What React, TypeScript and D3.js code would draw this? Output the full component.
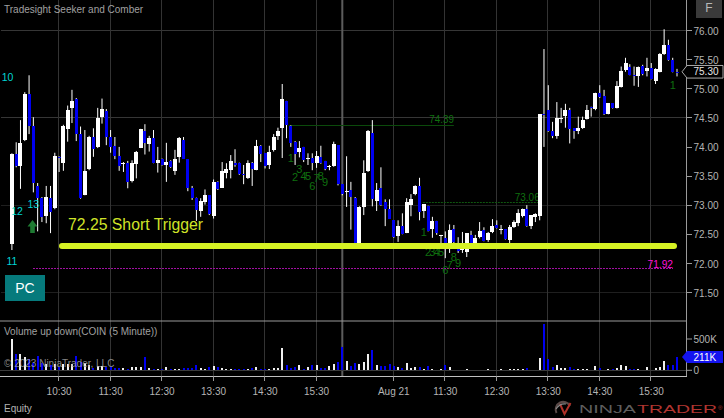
import React from "react";
import * as d3 from "d3";

const opens = [72.35,73.89,73.68,74.13,74.92,74.37,73.34,73.14,72.82,73.14,72.96,73.84,73.74,74.32,74.67,74.84,74.23,73.19,73.63,74.18,74.01,74.52,74.63,74.18,74.03,73.85,73.73,73.74,73.42,73.71,74.00,74.29,74.06,74.17,73.73,73.80,73.70,73.77,73.60,73.84,74.13,73.80,73.30,73.13,72.91,73.06,73.18,72.82,73.41,73.31,73.56,73.62,73.73,73.74,73.55,73.48,73.74,73.62,74.03,73.90,73.70,73.95,74.20,74.33,74.80,74.37,74.10,73.92,74.01,73.81,73.82,73.74,73.84,73.77,73.67,73.68,74.04,73.37,73.24,73.27,73.14,72.36,72.98,73.60,74.25,73.08,73.30,73.07,72.95,72.75,72.48,72.65,72.54,73.01,73.20,73.34,72.91,73.00,72.60,72.74,72.49,72.45,72.32,72.60,72.32,72.24,72.21,72.50,72.36,72.46,72.58,72.41,72.55,72.67,72.59,72.60,72.41,72.63,72.71,72.82,72.94,72.65,72.80,72.82,74.58,74.64,74.28,74.20,74.50,74.54,74.64,74.33,74.29,74.33,74.49,74.69,74.66,74.93,74.88,74.58,74.76,74.68,75.04,75.33,75.39,75.24,75.22,75.40,75.31,75.36,75.15,75.30,75.60,75.76,75.50,75.30];
const closes = [73.88,73.68,74.08,74.91,74.37,73.39,73.13,72.81,73.15,72.90,73.85,73.82,74.37,74.64,74.80,74.23,73.13,73.60,74.18,73.97,74.51,74.66,74.18,74.01,73.85,73.69,73.74,73.41,73.73,73.93,74.31,74.08,74.17,73.74,73.78,73.70,73.75,73.66,73.80,74.16,73.81,73.30,73.13,72.93,73.08,73.18,72.86,73.41,73.28,73.60,73.63,73.77,73.70,73.54,73.53,73.74,73.63,74.03,73.89,73.69,73.92,74.18,74.29,74.84,74.38,74.08,73.89,74.00,73.78,73.82,73.74,73.85,73.74,73.63,73.68,74.06,73.37,73.20,73.25,73.15,72.36,72.98,73.57,74.28,73.11,73.27,73.01,72.94,72.78,72.47,72.65,72.52,73.07,73.11,73.34,72.90,73.03,72.57,72.74,72.53,72.50,72.32,72.58,72.37,72.22,72.36,72.53,72.36,72.44,72.57,72.40,72.54,72.65,72.62,72.60,72.43,72.64,72.72,72.88,72.94,72.66,72.84,72.86,74.57,74.56,74.28,74.20,74.51,74.51,74.64,74.32,74.29,74.33,74.48,74.64,74.68,74.93,74.87,74.57,74.76,74.67,75.06,75.32,75.45,75.24,75.23,75.38,75.27,75.37,75.18,75.34,75.60,75.76,75.50,75.30,75.29];
const highs = [73.90,74.09,74.47,74.95,75.24,74.52,73.39,73.15,73.34,73.34,73.91,73.85,74.39,74.72,74.99,74.85,74.36,74.30,74.20,74.33,74.68,74.84,74.66,74.30,74.18,74.01,73.75,73.77,73.78,73.94,74.32,74.40,74.20,74.30,74.01,73.81,74.08,73.78,73.96,74.18,74.18,73.80,73.34,73.14,73.13,73.28,73.18,73.45,73.42,73.75,73.73,73.87,73.97,73.74,73.70,73.78,73.75,74.13,74.04,73.90,74.03,74.23,74.34,75.09,74.80,74.38,74.11,74.11,74.01,73.90,73.90,73.94,74.03,73.77,73.70,74.10,74.04,73.37,73.85,73.41,73.15,72.99,73.78,74.30,74.47,73.39,73.66,73.11,73.11,72.75,72.75,72.87,73.13,73.20,73.35,73.48,73.03,73.00,72.81,72.74,72.50,72.56,72.68,72.67,72.46,72.55,72.53,72.57,72.50,72.72,72.63,72.55,72.77,72.75,72.67,72.60,72.67,72.75,72.94,72.95,73.01,72.84,72.87,74.57,75.69,75.07,74.44,74.78,74.68,74.75,74.68,74.33,74.53,74.53,74.73,74.70,74.94,75.07,74.99,74.76,74.76,75.14,75.39,75.54,75.43,75.39,75.39,75.42,75.54,75.45,75.36,75.62,76.03,75.85,75.54,75.35];
const lows = [72.24,73.66,73.29,74.11,74.23,73.23,72.56,72.72,72.70,72.53,72.94,73.58,73.60,74.10,74.42,74.11,73.12,73.18,73.61,73.84,73.99,74.41,74.04,73.91,73.80,73.60,73.58,73.30,73.40,73.47,73.99,73.88,73.93,73.73,73.57,73.69,73.41,73.65,73.53,73.74,73.81,73.25,73.10,72.74,72.81,73.02,72.84,72.78,73.27,73.31,73.47,73.47,73.67,73.53,73.37,73.46,73.34,73.61,73.75,73.64,73.63,73.93,74.13,73.82,74.16,74.01,73.70,73.83,73.75,73.70,73.61,73.65,73.72,73.61,73.61,73.67,73.35,73.18,72.98,72.59,72.32,72.31,72.84,73.58,72.99,72.91,73.00,72.65,72.78,72.45,72.38,72.51,72.53,72.82,73.18,72.75,72.79,72.56,72.45,72.50,72.32,72.10,72.19,72.35,72.19,72.19,72.12,72.29,72.34,72.44,72.39,72.38,72.53,72.61,72.51,72.42,72.34,72.62,72.65,72.80,72.64,72.60,72.72,72.75,74.01,74.27,74.16,74.15,74.42,74.34,74.07,74.15,74.23,74.32,74.48,74.53,74.64,74.85,74.56,74.57,74.67,74.67,75.03,75.30,75.24,75.06,75.04,75.24,75.22,75.17,75.09,75.29,75.59,75.49,75.29,75.22];
const volumesK = [506,267,267,208,187,120,224,120,100,85,100,60,100,95,95,224,130,120,90,40,70,70,55,60,30,30,40,25,48,50,53,208,37,21,21,20,48,21,21,21,43,37,37,80,37,27,48,64,48,32,27,27,21,21,16,21,37,53,21,21,27,37,37,357,85,37,48,90,21,48,85,85,43,37,64,101,133,373,155,75,112,101,133,261,320,91,75,75,101,75,53,37,117,37,48,48,21,64,21,11,27,80,53,11,5,11,16,11,11,11,11,16,11,11,16,11,21,27,21,27,37,5,5,197,741,176,48,80,37,37,48,21,21,21,21,11,64,37,11,21,27,37,90,64,27,21,21,11,48,11,37,48,155,85,85,208];

const priceTicks = [76, 75.5, 75, 74.5, 74, 73.5, 73, 72.5, 72, 71.5];
const gridPrices = [76, 74.5];
const faintGridPrices = [73, 71.5];
const timeTicks: [number, string][] = [[11,"10:30"],[23,"11:30"],[35,"12:30"],[47,"13:30"],[59,"14:30"],[71,"15:30"],[89,"Aug 21"],[101,"11:30"],[113,"12:30"],[125,"13:30"],[137,"14:30"],[149,"15:30"]];
const sessionBreakBar = 77;
const tdFirst: [string, number, number][] = [["1",65,73.82],["2",66,73.49],["3",67,73.63],["4",68,73.51],["5",69,73.51],["6",70,73.34],["7",71,73.48],["8",72,73.51],["9",73,73.41]];
const tdSecond: [string, number, number][] = [["1",96,72.55],["2",97,72.20],["3",98,72.20],["4",99,72.20],["5",100,72.20],["6",101,71.89],["7",102,71.98],["8",103,72.12],["9",104,72.02],["1",154,75.07]];
const cyanLabels: [string, number, number][] = [["10",-1,75.20],["12",1.2,72.91],["13",5,73.03],["11",0,72.04]];
const triggerLevel = 72.31;
const triggerLabel = "72.25 Short Trigger";
const magentaLevel = 71.91;
const upperLevel = 74.37;
const lowerLevel = 73.05;
const lastPrice = 75.30;
const lastVolumeK = 211;

const W = 724, H = 418;
const x = d3.scaleLinear().domain([0, 155]).range([11.9, 677]);
const y = d3.scaleLinear().domain([72, 76]).range([264, 31]);
const v = d3.scaleLinear().domain([0, 500]).range([370.3, 339]);
const FONT = "'Liberation Sans', Arial, sans-serif";
const GREEN = "#0f6f0f";
const PANEL_RIGHT = 687;

const snap = (n: number) => Math.round(n) - 0.5;

export default function App() {
  const axisLine = "#9a9a9a";
  const tickText = "#b4b4b4";
  return (
    <svg width={W} height={H} viewBox={`0 0 ${W} ${H}`} style={{ position: "fixed", left: 0, top: 0, background: "#000", fontFamily: FONT }}>
      <rect width={W} height={H} fill="#000" />
      {/* grid */}
      {gridPrices.map((p) => <line key={p} x1={1} x2={PANEL_RIGHT} y1={snap(y(p))} y2={snap(y(p))} stroke="#363636" />)}
      {faintGridPrices.map((p) => <line key={p} x1={1} x2={PANEL_RIGHT} y1={snap(y(p))} y2={snap(y(p))} stroke="#1f1f1f" />)}
      {timeTicks.map(([i, t]) => <line key={i} x1={snap(x(i))} x2={snap(x(i))} y1={0} y2={376} stroke="#333" />)}
      <line x1={x(sessionBreakBar)} x2={x(sessionBreakBar)} y1={0} y2={376} stroke="#5c5c5c" strokeWidth={2} />

      {/* levels */}
      <line x1={x(65) - 2} x2={x(103)} y1={snap(y(upperLevel))} y2={snap(y(upperLevel))} stroke="#0b4a0b" />
      <text x={x(103)} y={y(upperLevel) - 2.5} fontSize={11} fill={GREEN} textAnchor="end" textLength={24.5} lengthAdjust="spacingAndGlyphs">74.39</text>
      <line x1={x(96) - 1} x2={x(123)} y1={snap(y(lowerLevel))} y2={snap(y(lowerLevel))} stroke="#0f560f" strokeDasharray="2 1" />
      <text x={x(123)} y={y(lowerLevel) - 1.5} fontSize={11} fill={GREEN} textAnchor="end" textLength={25} lengthAdjust="spacingAndGlyphs">73.06</text>
      <line x1={33} x2={x(155) - 4} y1={snap(y(magentaLevel))} y2={snap(y(magentaLevel))} stroke="#a010a0" strokeDasharray="2 1" />
      <text x={x(155) - 4} y={y(magentaLevel) - 1.5} fontSize={11} fill="#ff10d8" textAnchor="end" textLength={25.5} lengthAdjust="spacingAndGlyphs">71.92</text>

      {/* TD count numbers under candles */}
      {[...tdFirst, ...tdSecond].map(([t, i, p], k) => (
        <text key={k} x={x(i)} y={y(p)} dy="0.36em" fontSize={11} fill={GREEN} textAnchor="middle">{t}</text>
      ))}

      {/* candles */}
      {opens.map((o, i) => {
        const c = closes[i];
        const up = c >= o;
        const top = y(Math.max(o, c));
        const bot = y(Math.min(o, c));
        const w = up ? 4 : 3;
        return (
          <g key={i}>
            <line x1={x(i)} x2={x(i)} y1={y(highs[i])} y2={y(lows[i])} stroke="#fff" strokeWidth={1} />
            <rect x={Math.round(x(i) - w / 2)} width={w} y={top} height={Math.max(bot - top, 1)} fill={up ? "#fff" : "#0000f0"} shapeRendering="crispEdges" />
          </g>
        );
      })}

      {/* trigger */}
      <line x1={62} x2={674} y1={y(triggerLevel)} y2={y(triggerLevel)} stroke="#d6f224" strokeWidth={6} strokeLinecap="round" />
      <text x={68} y={230} fontSize={16} fill="#d0e428" textLength={135} lengthAdjust="spacingAndGlyphs">{triggerLabel}</text>

      {/* cyan labels */}
      {cyanLabels.map(([t, i, p]) => (
        <text key={t} x={x(i)} y={y(p)} dy="0.36em" fontSize={10.5} fill="#00d4d4" textAnchor="middle">{t}</text>
      ))}
      {/* arrow */}
      <path d="M32.5 220 L37.5 226.5 L34.8 226.5 L34.8 233 L30.2 233 L30.2 226.5 L27.5 226.5 Z" fill="#1e7a32" />

      {/* PC button */}
      <rect x={5} y={275} width={40} height={26} fill="#067a7c" />
      <text x={25} y={288} dy="0.36em" fontSize={14} fill="#fff" textAnchor="middle">PC</text>

      {/* title */}
      <text x={4} y={12.5} fontSize={10} fill="#a0a0a0">Tradesight Seeker and Comber</text>

      {/* F button */}
      <rect x={696} y={0} width={26} height={18} fill="#3a3a3a" />
      <text x={709} y={8} dy="0.36em" fontSize={12} fill="#b8b8b8" textAnchor="middle">F</text>

      {/* volume panel */}
      <line x1={0} x2={PANEL_RIGHT} y1={321} y2={321} stroke={axisLine} />
      {volumesK.map((k, i) => (
        <rect key={i} x={Math.round(x(i) - 1)} width={2} y={v(k)} height={v(0) - v(k)} fill={closes[i] >= opens[i] ? "#f0f0f0" : "#0000f0"} shapeRendering="crispEdges" />
      ))}
      <line x1={0} x2={PANEL_RIGHT} y1={370.5} y2={370.5} stroke="#3a3a3a" />
      <text x={4} y={334.5} fontSize={10} fill="#a0a0a0">Volume up down(COIN (5 Minute))</text>
      <text x={4} y={367} fontSize={10} fill="#a0a0a0" fillOpacity={0.85}>© 2023 NinjaTrader, LLC</text>

      {/* axes frame */}
      <line x1={PANEL_RIGHT - 0.5} x2={PANEL_RIGHT - 0.5} y1={0} y2={376.5} stroke={axisLine} />
      <line x1={0} x2={PANEL_RIGHT} y1={376.5} y2={376.5} stroke="#c0c0c0" />

      {/* price axis */}
      {priceTicks.map((p) => (
        <g key={p}>
          <line x1={PANEL_RIGHT} x2={692} y1={snap(y(p))} y2={snap(y(p))} stroke={axisLine} />
          <text x={693.5} y={y(p)} dy="0.36em" fontSize={10} fill={tickText}>{p.toFixed(2)}</text>
        </g>
      ))}
      <polygon
        points={`${682},${y(lastPrice)} ${687},${y(lastPrice) - 6.3} 723,${y(lastPrice) - 6.3} 723,${y(lastPrice) + 6.3} ${687},${y(lastPrice) + 6.3}`}
        fill="#000" stroke="#a8a8a8"
      />
      <text x={693.5} y={y(lastPrice)} dy="0.36em" fontSize={10} fill="#e6e6e6">{lastPrice.toFixed(2)}</text>

      {/* volume axis */}
      <line x1={PANEL_RIGHT} x2={692} y1={v(500)} y2={v(500)} stroke={axisLine} />
      <text x={693.5} y={v(500)} dy="0.36em" fontSize={10} fill={tickText}>500K</text>
      <line x1={PANEL_RIGHT} x2={692} y1={v(0)} y2={v(0)} stroke={axisLine} />
      <text x={693.5} y={v(0)} dy="0.36em" fontSize={10} fill={tickText}>0</text>
      <polygon
        points={`${682},${v(lastVolumeK)} ${687},${v(lastVolumeK) - 6} 723,${v(lastVolumeK) - 6} 723,${v(lastVolumeK) + 6} ${687},${v(lastVolumeK) + 6}`}
        fill="#1414f0"
      />
      <text x={693.5} y={v(lastVolumeK)} dy="0.36em" fontSize={10} fill="#fff">{lastVolumeK}K</text>

      {/* time axis */}
      {timeTicks.map(([i, t]) => (
        <g key={i}>
          <line x1={snap(x(i))} x2={snap(x(i))} y1={376} y2={381} stroke={axisLine} />
          <text x={x(i)} y={391} dy="0.36em" fontSize={10} fill={tickText} textAnchor="middle">{t}</text>
        </g>
      ))}
      <text x={4} y={408} dy="0.36em" fontSize={10} fill={tickText}>Equity</text>

      {/* logo */}
      <g>
        <path d="M556.5 413 A6.5 6.5 0 1 1 570 406" fill="none" stroke="#5a4a48" strokeWidth={2} />
        <path d="M560 404 L564.5 414 L570.5 403" fill="none" stroke="#b03028" strokeWidth={2} />
        <path d="M556 409 Q560 403 566 404" fill="none" stroke="#8a8a8a" strokeWidth={1.2} />
        <text x={579} y={412.6} fontSize={11.5} fill="#5e5e5e" textLength={57} lengthAdjust="spacingAndGlyphs">NINJA</text>
        <text x={637} y={412.6} fontSize={11.5} fill="#b03530" textLength={80} lengthAdjust="spacingAndGlyphs">TRADER</text>
        <text x={718} y={410} fontSize={6} fill="#a8302c">®</text>
      </g>
    </svg>
  );
}
